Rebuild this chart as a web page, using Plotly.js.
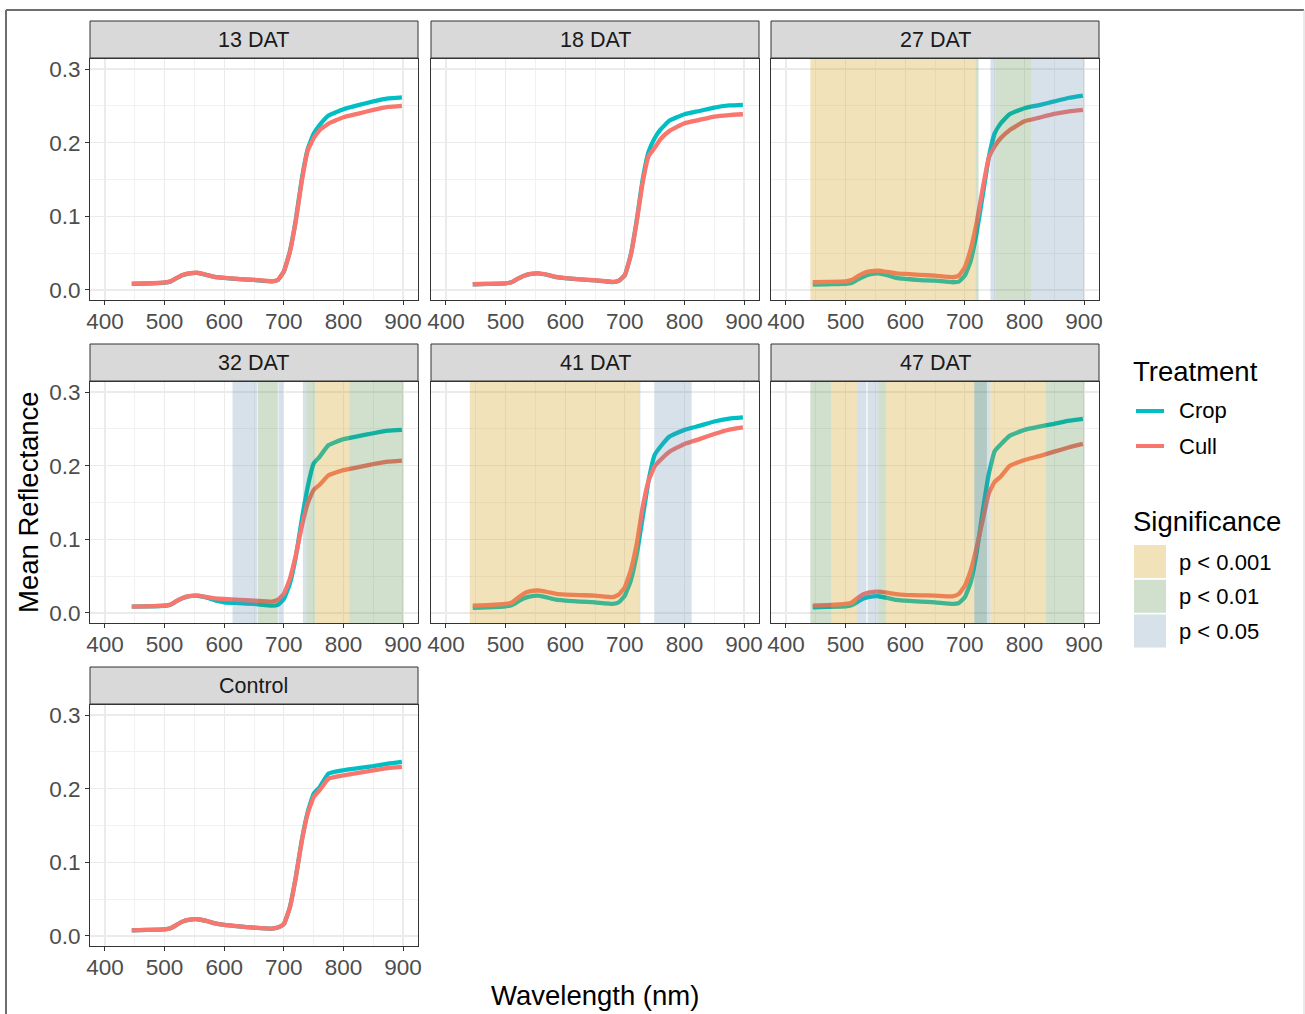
<!DOCTYPE html>
<html>
<head>
<meta charset="utf-8">
<script src="https://cdn.plot.ly/plotly-3.0.1.min.js"></script>
<style>
html,body{margin:0;padding:0;background:#fff;overflow:hidden;}
#chart{width:1305px;height:1014px;}
</style>
</head>
<body>
<div id="chart"></div>
<script>
// ---------------- DATA ----------------
const panels = ['13 DAT', '18 DAT', '27 DAT', '32 DAT', '41 DAT', '47 DAT', 'Control'];
const wavelength = [445, 470, 500, 510, 520, 530, 540, 555, 570, 585, 600, 625, 650, 680, 690, 700, 710, 720, 730, 740, 750, 760, 775, 800, 825, 850, 875, 898];

const crop13 = [0.0083, 0.0088, 0.0100, 0.0115, 0.0160, 0.0200, 0.0222, 0.0232, 0.0205, 0.0175, 0.0163, 0.0147, 0.0136, 0.0116, 0.0135, 0.0250, 0.0520, 0.0950, 0.1500, 0.1910, 0.2120, 0.2240, 0.2370, 0.2455, 0.2510, 0.2560, 0.2600, 0.2615];
const cull13 = [0.0085, 0.0090, 0.0102, 0.0117, 0.0162, 0.0202, 0.0224, 0.0234, 0.0207, 0.0177, 0.0165, 0.0149, 0.0138, 0.0118, 0.0137, 0.0250, 0.0510, 0.0930, 0.1470, 0.1890, 0.2060, 0.2170, 0.2260, 0.2345, 0.2395, 0.2445, 0.2485, 0.2500];
const crop18 = [0.0078, 0.0083, 0.0090, 0.0105, 0.0150, 0.0190, 0.0215, 0.0225, 0.0205, 0.0175, 0.0160, 0.0143, 0.0130, 0.0108, 0.0125, 0.0200, 0.0480, 0.0950, 0.1500, 0.1880, 0.2060, 0.2180, 0.2300, 0.2386, 0.2430, 0.2477, 0.2505, 0.2514];
const cull18 = [0.0078, 0.0083, 0.0090, 0.0105, 0.0150, 0.0190, 0.0215, 0.0226, 0.0207, 0.0177, 0.0162, 0.0145, 0.0132, 0.0110, 0.0127, 0.0200, 0.0470, 0.0930, 0.1460, 0.1820, 0.1930, 0.2050, 0.2160, 0.2264, 0.2310, 0.2355, 0.2375, 0.2386];
const crop27 = [0.0073, 0.0078, 0.0082, 0.0095, 0.0140, 0.0180, 0.0210, 0.0227, 0.0200, 0.0165, 0.0150, 0.0135, 0.0127, 0.0105, 0.0114, 0.0195, 0.0400, 0.0786, 0.1286, 0.1790, 0.2127, 0.2260, 0.2386, 0.2468, 0.2510, 0.2560, 0.2610, 0.2640];
const cull27 = [0.0105, 0.0110, 0.0118, 0.0135, 0.0185, 0.0228, 0.0252, 0.0264, 0.0245, 0.0225, 0.0218, 0.0205, 0.0195, 0.0173, 0.0195, 0.0310, 0.0560, 0.0920, 0.1380, 0.1790, 0.1950, 0.2060, 0.2170, 0.2290, 0.2340, 0.2390, 0.2425, 0.2445];
const crop32 = [0.0086, 0.0090, 0.0098, 0.0112, 0.0160, 0.0200, 0.0225, 0.0234, 0.0210, 0.0170, 0.0145, 0.0133, 0.0123, 0.0100, 0.0110, 0.0190, 0.0395, 0.0760, 0.1260, 0.1710, 0.2030, 0.2120, 0.2280, 0.2360, 0.2400, 0.2440, 0.2475, 0.2486];
const cull32 = [0.0086, 0.0090, 0.0100, 0.0115, 0.0162, 0.0203, 0.0228, 0.0236, 0.0218, 0.0198, 0.0190, 0.0178, 0.0168, 0.0155, 0.0177, 0.0260, 0.0460, 0.0780, 0.1170, 0.1490, 0.1670, 0.1740, 0.1870, 0.1940, 0.1980, 0.2020, 0.2055, 0.2070];
const crop41 = [0.0068, 0.0075, 0.0090, 0.0105, 0.0150, 0.0195, 0.0222, 0.0236, 0.0210, 0.0180, 0.0168, 0.0155, 0.0145, 0.0123, 0.0145, 0.0236, 0.0440, 0.0800, 0.1300, 0.1800, 0.2145, 0.2260, 0.2395, 0.2486, 0.2540, 0.2600, 0.2640, 0.2655];
const cull41 = [0.0100, 0.0108, 0.0123, 0.0140, 0.0200, 0.0260, 0.0293, 0.0305, 0.0285, 0.0260, 0.0250, 0.0242, 0.0236, 0.0214, 0.0250, 0.0350, 0.0580, 0.0940, 0.1440, 0.1800, 0.1990, 0.2080, 0.2190, 0.2295, 0.2360, 0.2430, 0.2490, 0.2520];
const crop47 = [0.0077, 0.0082, 0.0090, 0.0105, 0.0150, 0.0195, 0.0218, 0.0227, 0.0205, 0.0178, 0.0168, 0.0155, 0.0145, 0.0123, 0.0136, 0.0214, 0.0420, 0.0830, 0.1380, 0.1880, 0.2195, 0.2286, 0.2405, 0.2486, 0.2530, 0.2568, 0.2610, 0.2636];
const cull47 = [0.0100, 0.0108, 0.0123, 0.0140, 0.0200, 0.0255, 0.0280, 0.0290, 0.0275, 0.0255, 0.0245, 0.0240, 0.0236, 0.0227, 0.0260, 0.0370, 0.0580, 0.0895, 0.1260, 0.1620, 0.1780, 0.1850, 0.1995, 0.2077, 0.2130, 0.2190, 0.2250, 0.2295];
const cropControl = [0.0077, 0.0082, 0.0090, 0.0105, 0.0150, 0.0195, 0.0218, 0.0227, 0.0205, 0.0170, 0.0150, 0.0130, 0.0114, 0.0100, 0.0114, 0.0160, 0.0386, 0.0795, 0.1295, 0.1680, 0.1930, 0.2020, 0.2205, 0.2250, 0.2280, 0.2305, 0.2340, 0.2364];
const cullControl = [0.0077, 0.0082, 0.0090, 0.0105, 0.0150, 0.0195, 0.0218, 0.0227, 0.0205, 0.0170, 0.0150, 0.0130, 0.0114, 0.0100, 0.0114, 0.0160, 0.0380, 0.0790, 0.1280, 0.1660, 0.1886, 0.1980, 0.2136, 0.2180, 0.2215, 0.2250, 0.2280, 0.2295];

const cropSeries = [crop13, crop18, crop27, crop32, crop41, crop47, cropControl];
const cullSeries = [cull13, cull18, cull27, cull32, cull41, cull47, cullControl];

// significance bands (wavelength ranges, nm)
const sigPanel = ['27 DAT','27 DAT','27 DAT','27 DAT','27 DAT',
                  '32 DAT','32 DAT','32 DAT','32 DAT','32 DAT','32 DAT','32 DAT',
                  '41 DAT','41 DAT','41 DAT',
                  '47 DAT','47 DAT','47 DAT','47 DAT','47 DAT','47 DAT','47 DAT','47 DAT','47 DAT','47 DAT','47 DAT'];
const sigFrom  = [441, 718, 743, 752, 811,
                  614, 656, 691, 732, 738, 753, 810,
                  440, 724, 750,
                  441, 476, 519, 537, 555, 568, 716, 716, 737, 743, 836];
const sigTo    = [718, 723, 752, 811, 900,
                  655, 690, 699, 738, 753, 810, 900,
                  724, 726, 812,
                  476, 519, 535, 555, 568, 716, 737, 737, 743, 836, 900];
const sigLevel = ['p < 0.001','p < 0.01','p < 0.05','p < 0.01','p < 0.05',
                  'p < 0.05','p < 0.01','p < 0.05','p < 0.05','p < 0.01','p < 0.001','p < 0.01',
                  'p < 0.001','p < 0.05','p < 0.05',
                  'p < 0.01','p < 0.001','p < 0.05','p < 0.05','p < 0.01','p < 0.001','p < 0.01','p < 0.05','p < 0.05','p < 0.001','p < 0.01'];

const treatments = ['Crop', 'Cull'];
const sigLevels = ['p < 0.001', 'p < 0.01', 'p < 0.05'];
const xTicks = [400, 500, 600, 700, 800, 900];
const yTicks = [0, 0.1, 0.2, 0.3];

// ---------------- STYLE ----------------
const W = 1305, H = 1014;
const FONT = 'Liberation Sans, Arial, Helvetica, sans-serif';
const treatColor = {Crop: '#00BFC4', Cull: '#F8766D'};
const sigFill = {
  'p < 0.001': 'rgba(208,158,25,0.30)',
  'p < 0.01':  'rgba(67,131,51,0.25)',
  'p < 0.05':  'rgba(91,135,171,0.25)'
};
const X = px => px / W;
const Y = py => 1 - py / H;

const colPx = [[90, 418], [431, 759], [771, 1099]];
const rowPx = [[59, 300], [382, 623], [705, 946]];   // plot areas
const stripPx = [[21, 58], [344, 381], [667, 704]];

const traces = [];
const layout = {
  width: W, height: H,
  margin: {l: 0, r: 0, t: 0, b: 0},
  paper_bgcolor: '#ffffff', plot_bgcolor: '#ffffff',
  showlegend: false,
  font: {family: FONT},
  shapes: [], annotations: []
};

panels.forEach((name, i) => {
  const r = Math.floor(i / 3), c = i % 3;
  const sfx = i === 0 ? '' : String(i + 1);
  const xa = 'x' + sfx, ya = 'y' + sfx;
  const tickFont = {family: FONT, size: 22.5, color: '#4D4D4D'};
  layout['xaxis' + sfx] = {
    domain: [X(colPx[c][0]), X(colPx[c][1])],
    anchor: ya, range: [375, 925], fixedrange: true,
    tickmode: 'array', tickvals: xTicks, ticktext: xTicks.map(String),
    ticks: 'outside', ticklen: 4, tickwidth: 1, tickcolor: '#333333',
    tickfont: tickFont, ticklabelstandoff: -3,
    showline: true, mirror: true, linecolor: '#333333', linewidth: 1,
    showgrid: true, gridcolor: '#EBEBEB', gridwidth: 1.3, zeroline: false,
    minor: {tickvals: [450, 550, 650, 750, 850], showgrid: true, gridcolor: '#F1F1F1', gridwidth: 1, ticks: ''}
  };
  layout['yaxis' + sfx] = {
    domain: [Y(rowPx[r][1]), Y(rowPx[r][0])],
    anchor: xa, range: [-0.0136, 0.3136], fixedrange: true,
    tickmode: 'array', tickvals: yTicks, ticktext: yTicks.map(v => v.toFixed(1)),
    ticks: c === 0 ? 'outside' : '', ticklen: 4, tickwidth: 1, tickcolor: '#333333',
    showticklabels: c === 0, tickfont: tickFont,
    showline: true, mirror: true, linecolor: '#333333', linewidth: 1,
    showgrid: true, gridcolor: '#EBEBEB', gridwidth: 1.3, zeroline: false,
    minor: {tickvals: [0.05, 0.15, 0.25], showgrid: true, gridcolor: '#F1F1F1', gridwidth: 1, ticks: ''}
  };
  // lines
  [['Crop', cropSeries[i]], ['Cull', cullSeries[i]]].forEach(([t, vals]) => {
    traces.push({
      type: 'scatter', mode: 'lines', x: wavelength, y: vals,
      xaxis: xa, yaxis: ya, name: t,
      line: {color: treatColor[t], width: 4.3, shape: 'spline', smoothing: 0.35},
      hoverinfo: 'skip'
    });
  });
  // significance bands (drawn above lines, translucent)
  sigPanel.forEach((p, k) => {
    if (p !== name) return;
    layout.shapes.push({
      type: 'rect', xref: xa, yref: ya + ' domain',
      x0: sigFrom[k], x1: sigTo[k], y0: 0, y1: 1,
      fillcolor: sigFill[sigLevel[k]], line: {width: 0}, layer: 'above'
    });
  });
  // strip
  layout.shapes.push({
    type: 'rect', xref: 'paper', yref: 'paper',
    x0: X(colPx[c][0]), x1: X(colPx[c][1]), y0: Y(stripPx[r][1]), y1: Y(stripPx[r][0]),
    fillcolor: '#D9D9D9', line: {color: '#333333', width: 1}, layer: 'below'
  });
  layout.annotations.push({
    xref: 'paper', yref: 'paper', x: X((colPx[c][0] + colPx[c][1]) / 2), y: Y((stripPx[r][0] + stripPx[r][1]) / 2),
    text: name, showarrow: false, xanchor: 'center', yanchor: 'middle',
    font: {family: FONT, size: 21.5, color: '#1A1A1A'}
  });
});

// axis titles
layout.annotations.push({
  xref: 'paper', yref: 'paper', x: X(595), y: Y(995), text: 'Wavelength (nm)',
  showarrow: false, xanchor: 'center', yanchor: 'middle',
  font: {family: FONT, size: 27.5, color: '#000000'}
});
layout.annotations.push({
  xref: 'paper', yref: 'paper', x: X(28), y: Y(502), text: 'Mean Reflectance', textangle: -90,
  showarrow: false, xanchor: 'center', yanchor: 'middle',
  font: {family: FONT, size: 27.5, color: '#000000'}
});

// legend: Treatment
layout.annotations.push({
  xref: 'paper', yref: 'paper', x: X(1131), y: Y(371), text: 'Treatment',
  showarrow: false, xanchor: 'left', yanchor: 'middle',
  font: {family: FONT, size: 27.5, color: '#000000'}
});
treatments.forEach((t, k) => {
  const yy = 411 + k * 35;
  layout.shapes.push({
    type: 'line', xref: 'paper', yref: 'paper', x0: X(1136), x1: X(1164), y0: Y(yy), y1: Y(yy),
    line: {color: treatColor[t], width: 4}
  });
  layout.annotations.push({
    xref: 'paper', yref: 'paper', x: X(1177), y: Y(yy), text: t,
    showarrow: false, xanchor: 'left', yanchor: 'middle',
    font: {family: FONT, size: 22, color: '#000000'}
  });
});
// legend: Significance
layout.annotations.push({
  xref: 'paper', yref: 'paper', x: X(1131), y: Y(521), text: 'Significance',
  showarrow: false, xanchor: 'left', yanchor: 'middle',
  font: {family: FONT, size: 27.5, color: '#000000'}
});
sigLevels.forEach((s, k) => {
  const top = 545 + k * 34.7;
  layout.shapes.push({
    type: 'rect', xref: 'paper', yref: 'paper', x0: X(1134), x1: X(1166), y0: Y(top + 33), y1: Y(top),
    fillcolor: sigFill[s], line: {width: 0}
  });
  layout.annotations.push({
    xref: 'paper', yref: 'paper', x: X(1177), y: Y(top + 17), text: s,
    showarrow: false, xanchor: 'left', yanchor: 'middle',
    font: {family: FONT, size: 22, color: '#000000'}
  });
});

// outer frame of the picture
layout.shapes.push({type: 'line', xref: 'paper', yref: 'paper', x0: X(6), x1: X(6), y0: Y(10), y1: Y(1020), line: {color: '#6E6E6E', width: 2}});
layout.shapes.push({type: 'line', xref: 'paper', yref: 'paper', x0: X(6), x1: X(1304), y0: Y(10), y1: Y(10), line: {color: '#6E6E6E', width: 2}});
layout.shapes.push({type: 'line', xref: 'paper', yref: 'paper', x0: X(1304), x1: X(1304), y0: Y(10), y1: Y(1020), line: {color: '#D4D4D4', width: 1}});

Plotly.newPlot('chart', traces, layout, {displayModeBar: false, staticPlot: true});
</script>
</body>
</html>
